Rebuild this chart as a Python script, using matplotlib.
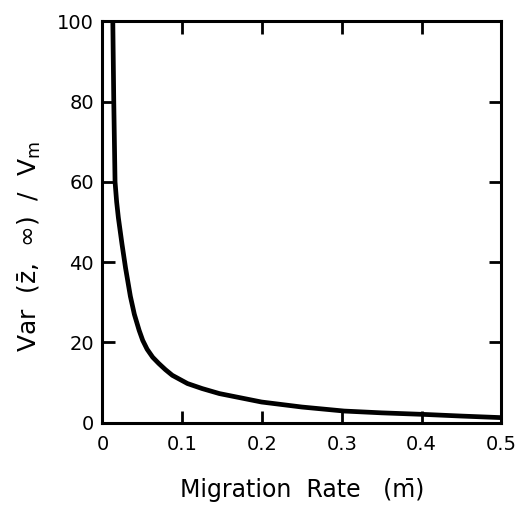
import numpy as np
import matplotlib
matplotlib.use("Agg")
import matplotlib.pyplot as plt

# values
mig_rate = [0.0130, 0.0142, 0.0158, 0.0178, 0.0200, 0.0245, 0.0290, 0.0350,
            0.0400, 0.0460, 0.0505, 0.0560, 0.0630, 0.0706, 0.0790, 0.0876,
            0.1066, 0.125, 0.1466, 0.1994, 0.25, 0.303, 0.35, 0.402,
            0.45, 0.501]
var_ratio = [100, 80, 60, 55, 51, 44.5, 38.5, 31.5,
             27, 23, 20.5, 18.3, 16.3, 14.75, 13.2, 11.8,
             9.75, 8.5, 7.25, 5.15, 3.9, 2.9, 2.45, 2.07,
             1.65, 1.25]

x_ticks = [0, 0.1, 0.2, 0.3, 0.4, 0.5]
x_labels = ["0", "0.1", "0.2", "0.3", "0.4", "0.5"]
y_ticks = [0, 20, 40, 60, 80, 100]

plt.rcParams["font.family"] = ["DejaVu Sans"]
plt.rcParams["mathtext.default"] = "regular"

fig = plt.figure(figsize=(5.2, 5.05), dpi=100)
ax = fig.add_axes([0.197, 0.163, 0.767, 0.795])

ax.plot(mig_rate, var_ratio, color="black", lw=3.4,
        solid_capstyle="butt", solid_joinstyle="round")

ax.set_xlim(0, 0.5)
ax.set_ylim(0, 100)
ax.set_xticks(x_ticks)
ax.set_xticklabels(x_labels)
ax.set_yticks(y_ticks)

for s in ax.spines.values():
    s.set_linewidth(2.2)

ax.tick_params(direction="in", length=9, width=2, labelsize=14,
               top=True, right=True)
ax.tick_params(axis="x", pad=9)
ax.tick_params(axis="y", pad=6)

ax.set_xlabel("Migration  Rate   (m\u0304)", fontsize=17, labelpad=17)
ax.set_ylabel("Var  (z\u0304,  \u221e)  /  V$_m$", fontsize=18)
ax.yaxis.set_label_coords(-0.15, 0.44)

fig.savefig("out.png", dpi=100)
